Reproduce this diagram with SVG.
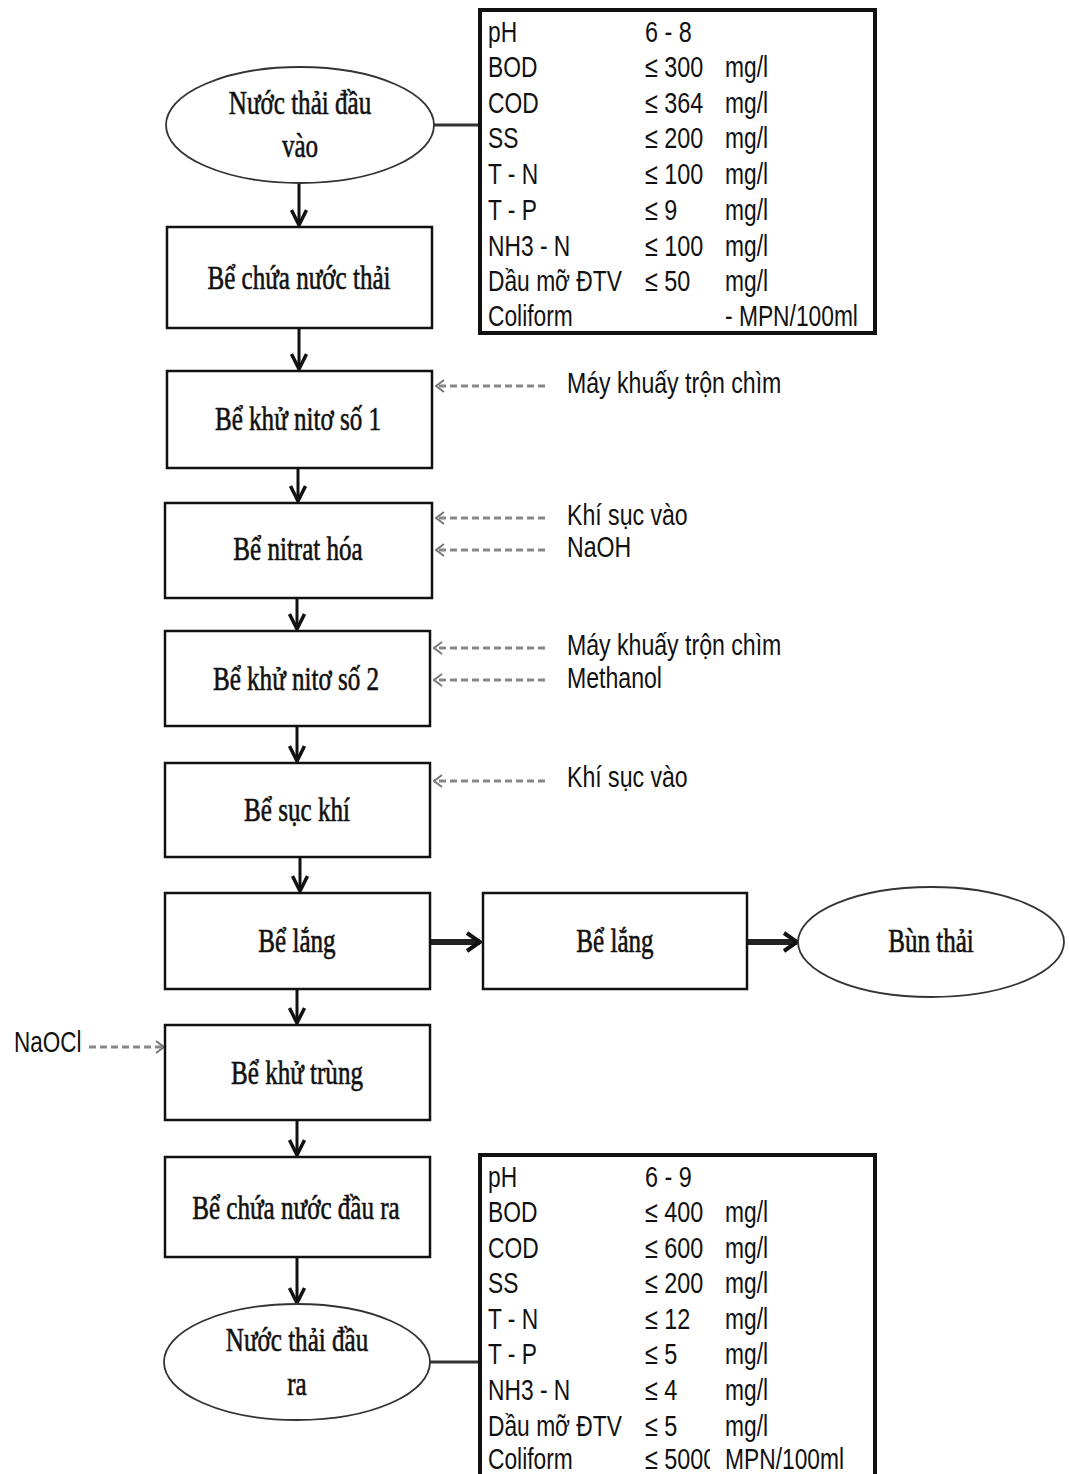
<svg xmlns="http://www.w3.org/2000/svg" width="1069" height="1474" viewBox="0 0 1069 1474">
<style>
.bg{fill:#fff}
.box{fill:#fff;stroke:#111;stroke-width:2.5}
.ell{fill:#fff;stroke:#333;stroke-width:1.8}
.tbl{fill:#fff;stroke:#111;stroke-width:4}
.lbl{font-family:"Liberation Serif","Times New Roman",serif;font-size:33px;fill:#111;stroke:#111;stroke-width:0.6;text-anchor:middle}
.sans{font-family:"Liberation Sans",Arial,sans-serif;font-size:30px;fill:#111}
.flow{stroke:#111;stroke-width:3;fill:none}
.thick{stroke:#222;stroke-width:6;fill:none}
.dash{stroke:#888;stroke-width:3;stroke-dasharray:7 4;fill:none}
.link{stroke:#333;stroke-width:3;fill:none}
</style>
<defs>
<marker id="ah" markerUnits="userSpaceOnUse" viewBox="0 0 20 18" refX="17" refY="9" markerWidth="20" markerHeight="18" orient="auto">
<path d="M2,1.5 L17,9 L2,16.5" fill="none" stroke="#111" stroke-width="3.5"/>
</marker>
<marker id="ahb" markerUnits="userSpaceOnUse" viewBox="0 0 18 22" refX="15" refY="11" markerWidth="18" markerHeight="22" orient="auto">
<path d="M2,2 L15,11 L2,20" fill="none" stroke="#111" stroke-width="4"/>
</marker>
<marker id="ahd" markerUnits="userSpaceOnUse" viewBox="0 0 10 14" refX="9" refY="7" markerWidth="10" markerHeight="14" orient="auto">
<path d="M1,1 L9,7 L1,13" fill="none" stroke="#777" stroke-width="2"/>
</marker>
<clipPath id="clip5000"><rect x="640" y="1440" width="70" height="34"/></clipPath>
</defs>
<rect class="bg" x="0" y="0" width="1069" height="1474"/>

<g id="connectors">
<line class="link" x1="434" y1="125" x2="480" y2="125"/>
<line class="link" x1="430" y1="1362" x2="480" y2="1362"/>
<line class="flow" x1="299" y1="184" x2="299" y2="225" marker-end="url(#ah)"/>
<line class="flow" x1="299" y1="329" x2="299" y2="369" marker-end="url(#ah)"/>
<line class="flow" x1="298" y1="469" x2="298" y2="501" marker-end="url(#ah)"/>
<line class="flow" x1="297" y1="599" x2="297" y2="629" marker-end="url(#ah)"/>
<line class="flow" x1="297" y1="727" x2="297" y2="761" marker-end="url(#ah)"/>
<line class="flow" x1="300" y1="858" x2="300" y2="891" marker-end="url(#ah)"/>
<line class="flow" x1="297" y1="990" x2="297" y2="1023" marker-end="url(#ah)"/>
<line class="flow" x1="297" y1="1121" x2="297" y2="1155" marker-end="url(#ah)"/>
<line class="flow" x1="297" y1="1258" x2="297" y2="1303" marker-end="url(#ah)"/>
<line class="thick" x1="431" y1="942" x2="480" y2="942" marker-end="url(#ahb)"/>
<line class="thick" x1="748" y1="942" x2="797" y2="942" marker-end="url(#ahb)"/>
<line class="dash" x1="545" y1="386" x2="436" y2="386" marker-end="url(#ahd)"/>
<line class="dash" x1="545" y1="518" x2="436" y2="518" marker-end="url(#ahd)"/>
<line class="dash" x1="545" y1="550" x2="436" y2="550" marker-end="url(#ahd)"/>
<line class="dash" x1="545" y1="648" x2="434" y2="648" marker-end="url(#ahd)"/>
<line class="dash" x1="545" y1="680" x2="434" y2="680" marker-end="url(#ahd)"/>
<line class="dash" x1="545" y1="781" x2="434" y2="781" marker-end="url(#ahd)"/>
<line class="dash" x1="89" y1="1047" x2="164" y2="1047" marker-end="url(#ahd)"/>
</g>

<g id="n-input">
<ellipse class="ell" cx="300" cy="125" rx="134" ry="58"/>
<text class="lbl" transform="translate(300,114) scale(0.76,1)">Nước thải đầu</text>
<text class="lbl" transform="translate(300,157) scale(0.76,1)">vào</text>
</g>

<g id="t-input">
<rect class="tbl" x="480" y="10" width="395" height="323"/>
<g transform="matrix(0.76,0,0,1,488,0)">
<text class="sans" x="0" y="42">pH</text>
<text class="sans" x="0" y="77">BOD</text>
<text class="sans" x="0" y="113">COD</text>
<text class="sans" x="0" y="148">SS</text>
<text class="sans" x="0" y="184">T - N</text>
<text class="sans" x="0" y="220">T - P</text>
<text class="sans" x="0" y="256">NH3 - N</text>
<text class="sans" x="0" y="291">Dầu mỡ ĐTV</text>
<text class="sans" x="0" y="326">Coliform</text>
</g>
<g transform="matrix(0.78,0,0,1,645,0)">
<text class="sans" x="0" y="42">6 - 8</text>
<text class="sans" x="0" y="77">≤ 300</text>
<text class="sans" x="0" y="113">≤ 364</text>
<text class="sans" x="0" y="148">≤ 200</text>
<text class="sans" x="0" y="184">≤ 100</text>
<text class="sans" x="0" y="220">≤ 9</text>
<text class="sans" x="0" y="256">≤ 100</text>
<text class="sans" x="0" y="291">≤ 50</text>
</g>
<g transform="matrix(0.76,0,0,1,725,0)">
<text class="sans" x="0" y="77">mg/l</text>
<text class="sans" x="0" y="113">mg/l</text>
<text class="sans" x="0" y="148">mg/l</text>
<text class="sans" x="0" y="184">mg/l</text>
<text class="sans" x="0" y="220">mg/l</text>
<text class="sans" x="0" y="256">mg/l</text>
<text class="sans" x="0" y="291">mg/l</text>
<text class="sans" x="0" y="326">- MPN/100ml</text>
</g>
</g>

<g id="n-be-chua">
<rect class="box" x="167" y="227" width="265" height="101"/>
<text class="lbl" transform="translate(299,289) scale(0.76,1)">Bể chứa nước thải</text>
</g>

<g id="n-khu-nito-1">
<rect class="box" x="167" y="371" width="265" height="97"/>
<text class="lbl" transform="translate(298,430) scale(0.76,1)">Bể khử nitơ số 1</text>
<text class="sans" transform="translate(567,393) scale(0.77,1)">Máy khuấy trộn chìm</text>
</g>

<g id="n-nitrat">
<rect class="box" x="165" y="503" width="267" height="95"/>
<text class="lbl" transform="translate(298,560) scale(0.76,1)">Bể nitrat hóa</text>
<text class="sans" transform="translate(567,525) scale(0.77,1)">Khí sục vào</text>
<text class="sans" transform="translate(567,557) scale(0.77,1)">NaOH</text>
</g>

<g id="n-khu-nito-2">
<rect class="box" x="165" y="631" width="265" height="95"/>
<text class="lbl" transform="translate(296,690) scale(0.76,1)">Bể khử nitơ số 2</text>
<text class="sans" transform="translate(567,655) scale(0.77,1)">Máy khuấy trộn chìm</text>
<text class="sans" transform="translate(567,688) scale(0.77,1)">Methanol</text>
</g>

<g id="n-suc-khi">
<rect class="box" x="165" y="763" width="265" height="94"/>
<text class="lbl" transform="translate(297,821) scale(0.76,1)">Bể sục khí</text>
<text class="sans" transform="translate(567,787) scale(0.77,1)">Khí sục vào</text>
</g>

<g id="n-lang-1">
<rect class="box" x="165" y="893" width="265" height="96"/>
<text class="lbl" transform="translate(297,952) scale(0.76,1)">Bể lắng</text>
</g>

<g id="n-lang-2">
<rect class="box" x="483" y="893" width="264" height="96"/>
<text class="lbl" transform="translate(615,952) scale(0.76,1)">Bể lắng</text>
</g>

<g id="n-bun-thai">
<ellipse class="ell" cx="931" cy="942" rx="133" ry="55"/>
<text class="lbl" transform="translate(931,952) scale(0.76,1)">Bùn thải</text>
</g>

<g id="n-khu-trung">
<rect class="box" x="165" y="1025" width="265" height="95"/>
<text class="lbl" transform="translate(297,1084) scale(0.76,1)">Bể khử trùng</text>
<text class="sans" transform="translate(14,1052) scale(0.75,1)">NaOCl</text>
</g>

<g id="n-be-chua-ra">
<rect class="box" x="165" y="1157" width="265" height="100"/>
<text class="lbl" transform="translate(296,1219) scale(0.76,1)">Bể chứa nước đầu ra</text>
</g>

<g id="n-output">
<ellipse class="ell" cx="297" cy="1362" rx="133" ry="58"/>
<text class="lbl" transform="translate(297,1351) scale(0.76,1)">Nước thải đầu</text>
<text class="lbl" transform="translate(297,1395) scale(0.76,1)">ra</text>
</g>

<g id="t-output">
<rect class="tbl" x="480" y="1155" width="395" height="330"/>
<g transform="matrix(0.76,0,0,1,488,0)">
<text class="sans" x="0" y="1187">pH</text>
<text class="sans" x="0" y="1222">BOD</text>
<text class="sans" x="0" y="1258">COD</text>
<text class="sans" x="0" y="1293">SS</text>
<text class="sans" x="0" y="1329">T - N</text>
<text class="sans" x="0" y="1364">T - P</text>
<text class="sans" x="0" y="1400">NH3 - N</text>
<text class="sans" x="0" y="1436">Dầu mỡ ĐTV</text>
<text class="sans" x="0" y="1469">Coliform</text>
</g>
<g transform="matrix(0.78,0,0,1,645,0)">
<text class="sans" x="0" y="1187">6 - 9</text>
<text class="sans" x="0" y="1222">≤ 400</text>
<text class="sans" x="0" y="1258">≤ 600</text>
<text class="sans" x="0" y="1293">≤ 200</text>
<text class="sans" x="0" y="1329">≤ 12</text>
<text class="sans" x="0" y="1364">≤ 5</text>
<text class="sans" x="0" y="1400">≤ 4</text>
<text class="sans" x="0" y="1436">≤ 5</text>
</g>
<g clip-path="url(#clip5000)">
<text class="sans" transform="translate(645,1469) scale(0.78,1)">≤ 5000</text>
</g>
<g transform="matrix(0.76,0,0,1,725,0)">
<text class="sans" x="0" y="1222">mg/l</text>
<text class="sans" x="0" y="1258">mg/l</text>
<text class="sans" x="0" y="1293">mg/l</text>
<text class="sans" x="0" y="1329">mg/l</text>
<text class="sans" x="0" y="1364">mg/l</text>
<text class="sans" x="0" y="1400">mg/l</text>
<text class="sans" x="0" y="1436">mg/l</text>
<text class="sans" x="0" y="1469">MPN/100ml</text>
</g>
</g>
</svg>
